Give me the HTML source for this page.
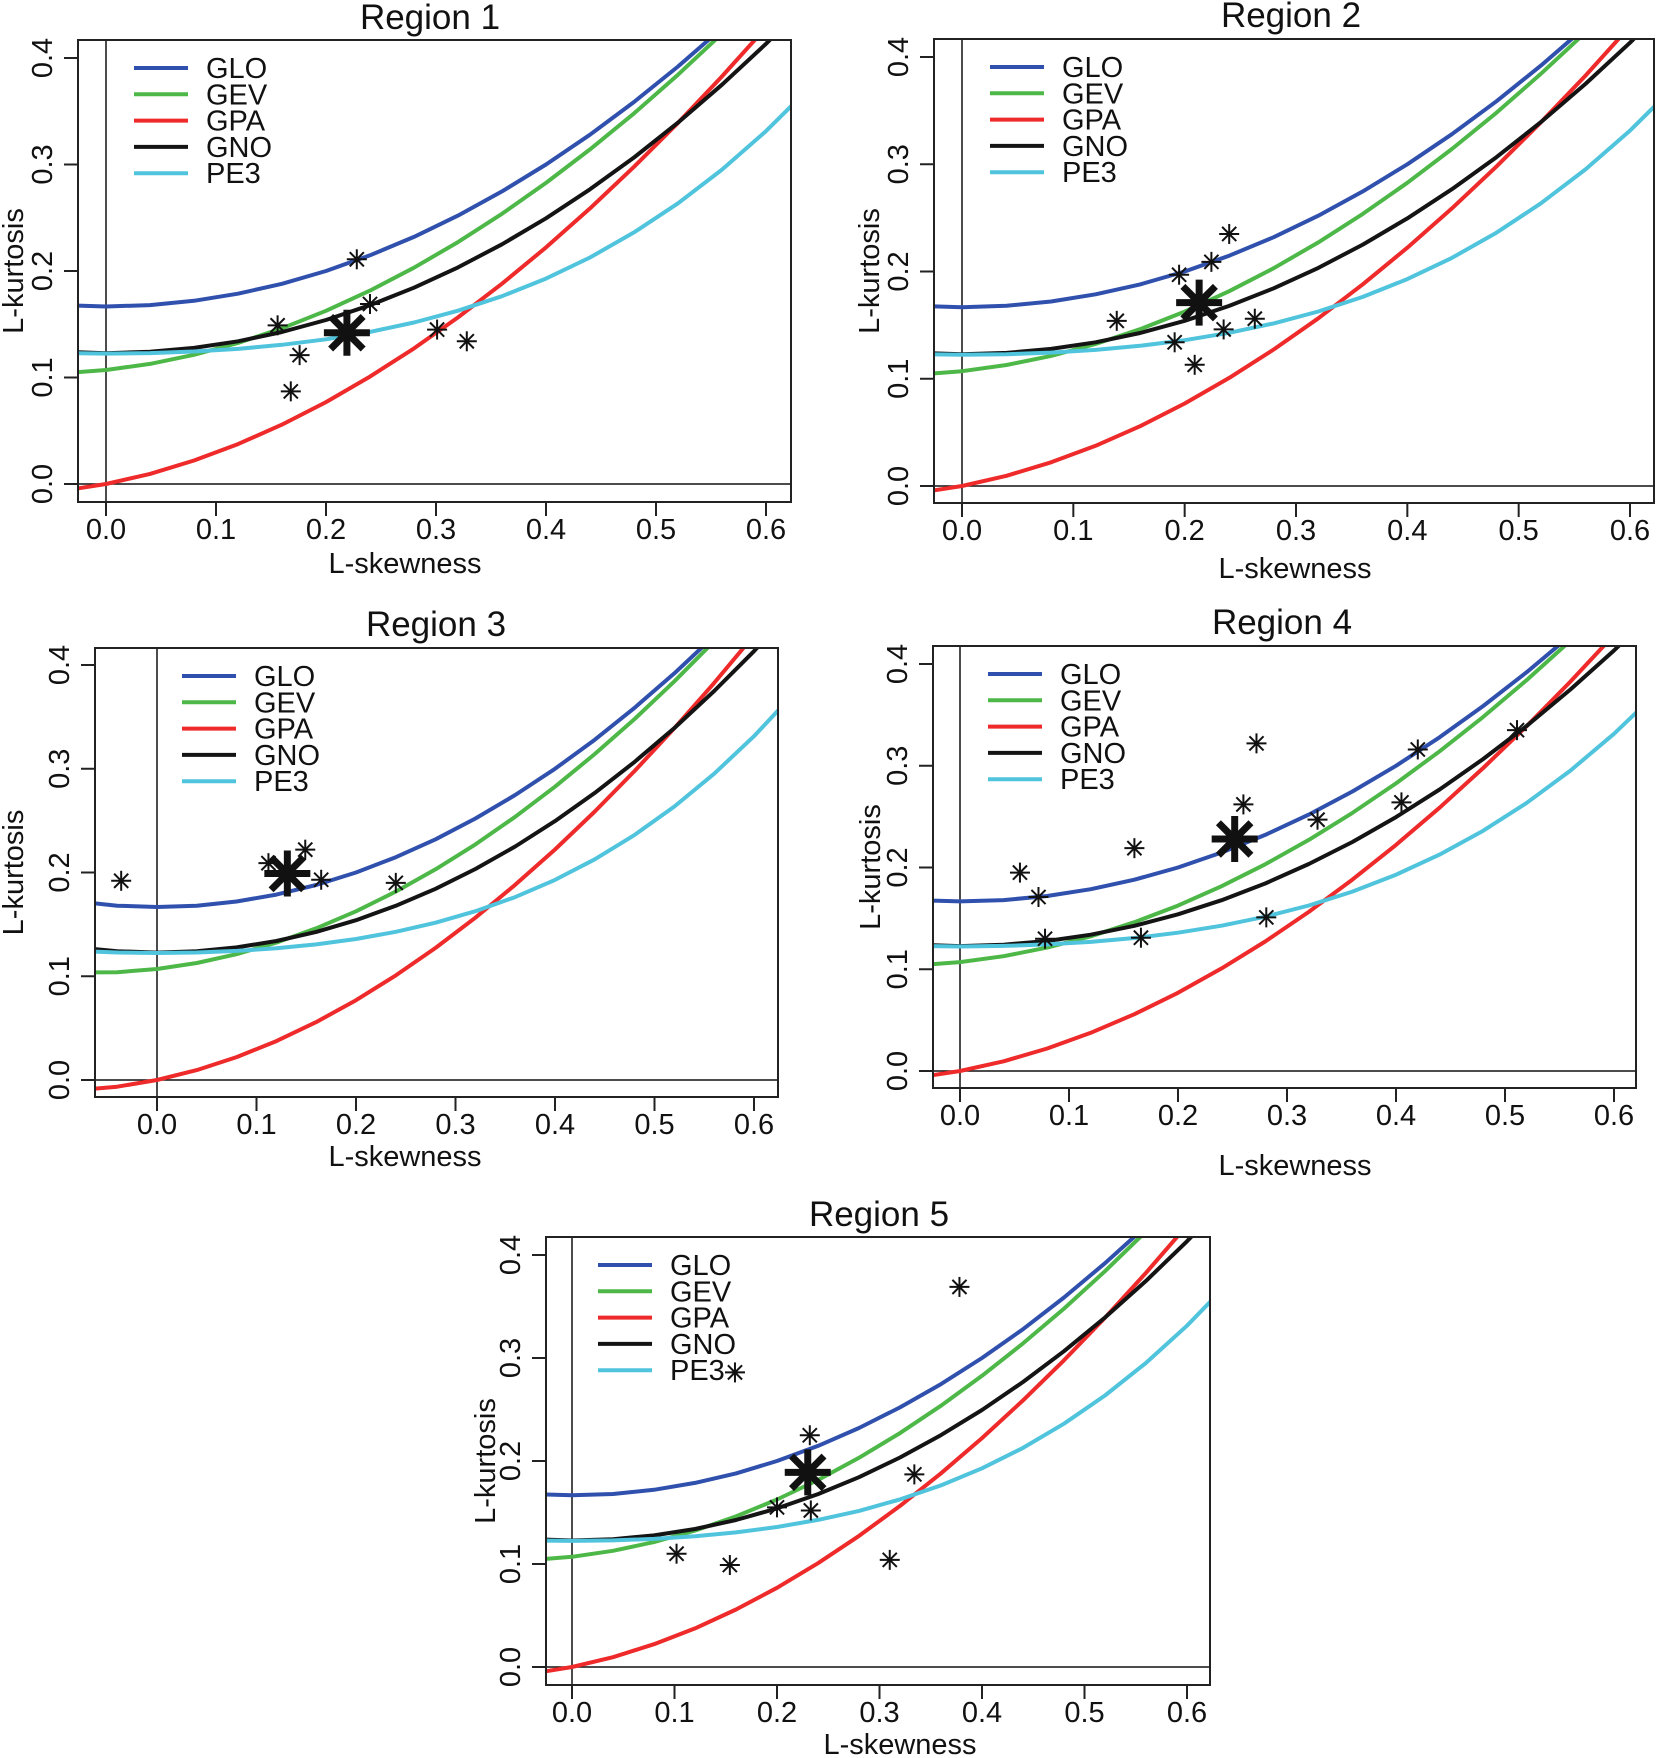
<!DOCTYPE html>
<html><head><meta charset="utf-8"><style>
html,body{margin:0;padding:0;background:#fff;}
svg{display:block;font-family:"Liberation Sans",sans-serif;}
</style></head><body>
<svg id="fig" width="1656" height="1758" viewBox="0 0 1656 1758" xmlns="http://www.w3.org/2000/svg"></svg>
<script>
// ---- theoretical curve data (L-skewness grid and L-kurtosis values) ----
const tauGrid = [-0.08,-0.04,0,0.04,0.08,0.12,0.16,0.20,0.24,0.28,0.32,0.36,0.40,0.44,0.48,0.52,0.56,0.60,0.64];
const gloVals = [0.1720,0.1680,0.1667,0.1680,0.1720,0.1787,0.1880,0.2000,0.2147,0.2320,0.2520,0.2747,0.3000,0.3280,0.3587,0.3920,0.4280,0.4667,0.5080];
const gevVals = [0.1036,0.1039,0.1070,0.1128,0.1213,0.1324,0.1462,0.1626,0.1816,0.2031,0.2271,0.2537,0.2827,0.3142,0.3480,0.3843,0.4229,0.4638,0.5070];
const gpaVals = [-0.0098,-0.0065,0,0.0095,0.0221,0.0375,0.0558,0.0769,0.1008,0.1273,0.1564,0.1881,0.2222,0.2588,0.2978,0.3391,0.3827,0.4286,0.4766];
const gnoVals = [0.1278,0.1241,0.1228,0.1241,0.1278,0.1340,0.1427,0.1540,0.1679,0.1843,0.2034,0.2251,0.2495,0.2767,0.3066,0.3393,0.3749,0.4133,0.4548];
const pe3Vals = [0.1244,0.1229,0.1224,0.1229,0.1244,0.1269,0.1307,0.1359,0.1428,0.1516,0.1627,0.1763,0.1929,0.2127,0.2362,0.2636,0.2952,0.3314,0.3724];
const seriesNames = ["GLO","GEV","GPA","GNO","PE3"];
const xTickLabels = ["0.0","0.1","0.2","0.3","0.4","0.5","0.6"];
const yTickLabels = ["0.0","0.1","0.2","0.3","0.4"];
// ---- site L-moment ratios per region ----
const r1SiteX = [0.228,0.240,0.156,0.176,0.168,0.301,0.328];
const r1SiteY = [0.211,0.169,0.149,0.121,0.087,0.145,0.134];
const r1Mean = [0.219,0.142];
const r2SiteX = [0.240,0.224,0.195,0.139,0.191,0.235,0.263,0.209];
const r2SiteY = [0.235,0.209,0.197,0.154,0.134,0.146,0.156,0.113];
const r2Mean = [0.213,0.171];
const r3SiteX = [-0.036,0.112,0.149,0.165,0.240];
const r3SiteY = [0.192,0.209,0.222,0.193,0.190];
const r3Mean = [0.131,0.199];
const r4SiteX = [0.055,0.072,0.078,0.160,0.166,0.260,0.272,0.328,0.281,0.405,0.420,0.511];
const r4SiteY = [0.195,0.171,0.130,0.219,0.131,0.262,0.322,0.247,0.151,0.264,0.316,0.335];
const r4Mean = [0.252,0.228];
const r5SiteX = [0.378,0.159,0.232,0.334,0.200,0.233,0.102,0.154,0.310];
const r5SiteY = [0.369,0.286,0.225,0.187,0.155,0.152,0.110,0.099,0.104];
const r5Mean = [0.230,0.189];

const colors = ["#3050ad","#4db848","#ee2a2a","#141414","#4fc4dc"];
const curves = [gloVals,gevVals,gpaVals,gnoVals,pe3Vals];
const NS="http://www.w3.org/2000/svg";
const svg=document.getElementById('fig');
function mk(tag,attrs,parent){const e=document.createElementNS(NS,tag);for(const k in attrs)e.setAttribute(k,attrs[k]);(parent||svg).appendChild(e);return e;}

const panels=[
 {id:1,L:78,R:791,T:40,B:502,x0:106,x6:766,y0:484,y4:58,title:[430,17],xlab:563,xlabX:405,ylabX:12,legX:56,sx:r1SiteX,sy:r1SiteY,m:r1Mean},
 {id:2,L:934,R:1654,T:39,B:503,x0:962,x6:1630,y0:486,y4:57,title:[1291,15],xlab:568,xlabX:1295,ylabX:868,legX:56,sx:r2SiteX,sy:r2SiteY,m:r2Mean},
 {id:3,L:95,R:778,T:648,B:1097,x0:157,x6:754,y0:1080,y4:665,title:[436,624],xlab:1156,xlabX:405,ylabX:12,legX:87,sx:r3SiteX,sy:r3SiteY,m:r3Mean},
 {id:4,L:933,R:1636,T:646,B:1088,x0:960,x6:1614,y0:1071,y4:664,title:[1282,622],xlab:1165,xlabX:1295,ylabX:869,legX:55,sx:r4SiteX,sy:r4SiteY,m:r4Mean},
 {id:5,L:546,R:1210,T:1237,B:1685,x0:572,x6:1187,y0:1667,y4:1255,title:[879,1214],xlab:1744,xlabX:900,ylabX:484,legX:52,sx:r5SiteX,sy:r5SiteY,m:r5Mean}
];

function star(g,cx,cy,r,w){
  const s=mk('g',{},g);
  
  
  const d=r*0.7071;
  mk('line',{x1:cx-r,y1:cy,x2:cx+r,y2:cy,stroke:'#111','stroke-width':w},s);
  mk('line',{x1:cx,y1:cy-r,x2:cx,y2:cy+r,stroke:'#111','stroke-width':w},s);
  mk('line',{x1:cx-d,y1:cy-d,x2:cx+d,y2:cy+d,stroke:'#111','stroke-width':w},s);
  mk('line',{x1:cx-d,y1:cy+d,x2:cx+d,y2:cy-d,stroke:'#111','stroke-width':w},s);
  return s;
}

panels.forEach(p=>{
  const X=v=>p.x0+(p.x6-p.x0)*v/0.6;
  const Y=v=>p.y0+(p.y4-p.y0)*v/0.4;
  const g=mk('g',{});
  
  
  const cid='clip'+p.id;
  const cp=mk('clipPath',{id:cid},g);
  mk('rect',{x:p.L,y:p.T,width:p.R-p.L,height:p.B-p.T},cp);
  const t=mk('text',{x:p.title[0],y:p.title[1]+12,'text-anchor':'middle','font-size':35,fill:'#111'},g);
  t.textContent='Region '+p.id;
  
  
  const refs=mk('g',{'clip-path':'url(#'+cid+')'},g);
  mk('line',{x1:X(0),y1:p.T,x2:X(0),y2:p.B,stroke:'#111','stroke-width':1.5},refs);
  mk('line',{x1:p.L,y1:Y(0),x2:p.R,y2:Y(0),stroke:'#111','stroke-width':1.5},refs);
  const cg=mk('g',{'clip-path':'url(#'+cid+')'},g);
  curves.forEach((vals,i)=>{
    const pts=tauGrid.map((tx,j)=>X(tx).toFixed(1)+','+Y(vals[j]).toFixed(1)).join(' ');
    const pl=mk('polyline',{points:pts,fill:'none',stroke:colors[i],'stroke-width':4,'stroke-linejoin':'round'},cg);
    
    
  });
  const sg=mk('g',{},g);
  
  
  p.sx.forEach((vx,i)=>star(sg,X(vx),Y(p.sy[i]),10,2));
  const big=star(sg,X(p.m[0]),Y(p.m[1]),23,7);
  
  const box=mk('rect',{x:p.L,y:p.T,width:p.R-p.L,height:p.B-p.T,fill:'none',stroke:'#222','stroke-width':2},g);
  
  
  xTickLabels.forEach((lab,i)=>{
    const v=i*0.1,x=X(v);
    mk('line',{x1:x,y1:p.B,x2:x,y2:p.B+14,stroke:'#222','stroke-width':2},g);
    const tl=mk('text',{x:x,y:p.B+37,'text-anchor':'middle','font-size':29,fill:'#111'},g);
    tl.textContent=lab;
    
    
  });
  const xl=mk('text',{x:p.xlabX,y:p.xlab+10,'text-anchor':'middle','font-size':29,fill:'#111'},g);
  xl.textContent='L-skewness';
  
  
  yTickLabels.forEach((lab,i)=>{
    const v=i*0.1,y=Y(v);
    mk('line',{x1:p.L-14,y1:y,x2:p.L,y2:y,stroke:'#222','stroke-width':2},g);
    const lx=p.L-26;
    const tl=mk('text',{x:lx,y:y,'text-anchor':'middle','font-size':29,fill:'#111',transform:'rotate(-90 '+lx+' '+y+')'},g);
    tl.textContent=lab;
    
    
  });
  const yc=(p.T+p.B)/2, yx=p.ylabX+11;
  const yl=mk('text',{x:yx,y:yc,'text-anchor':'middle','font-size':29,fill:'#111',transform:'rotate(-90 '+yx+' '+yc+')'},g);
  yl.textContent='L-kurtosis';
  
  
  const lg=mk('g',{},g);
  
  
  seriesNames.forEach((nm,i)=>{
    const y=p.T+28+i*26.3, x1=p.L+p.legX;
    const e=mk('g',{},lg);
    
    
    mk('line',{x1:x1,y1:y,x2:x1+54,y2:y,stroke:colors[i],'stroke-width':4},e);
    const tx=mk('text',{x:x1+72,y:y+10,'font-size':29,fill:'#111'},e);
    tx.textContent=nm;
  });
});
</script>
</body></html>
